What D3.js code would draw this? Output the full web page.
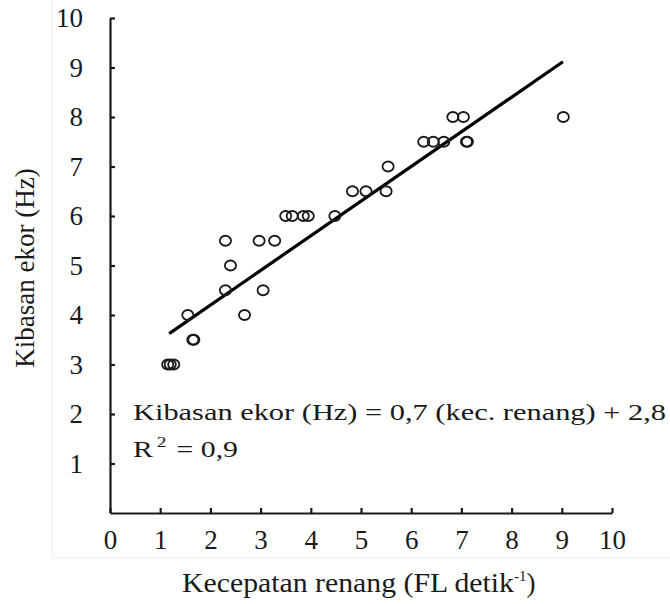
<!DOCTYPE html>
<html>
<head>
<meta charset="utf-8">
<script src="https://cdn.jsdelivr.net/npm/d3@7.9.0/dist/d3.min.js"></script>
<style>
  html, body { margin: 0; padding: 0; background: #fff; }
  svg { display: block; font-family: "Liberation Serif", "Times New Roman", serif; }
</style>
</head>
<body>
<svg id="chart" width="670" height="604"></svg>
<script>
// swimming speed (FL/s) vs tail beat frequency (Hz)
const speed = [1.15, 1.2, 1.27, 1.55, 1.65, 1.67, 2.3, 2.3, 2.4, 2.68, 2.97, 3.05, 3.28,
  3.5, 3.63, 3.85, 3.95, 4.48, 4.83, 5.1, 5.5, 5.54, 6.25, 6.44, 6.65, 6.83, 7.04, 7.1, 7.12, 9.03];
const tailBeat = [3, 3, 3, 4, 3.5, 3.5, 5.5, 4.5, 5, 4, 5.5, 4.5, 5.5,
  6, 6, 6, 6, 6, 6.5, 6.5, 6.5, 7, 7.5, 7.5, 7.5, 8, 8, 7.5, 7.5, 8];
const xTicks = [0, 1, 2, 3, 4, 5, 6, 7, 8, 9, 10];
const yTicks = [1, 2, 3, 4, 5, 6, 7, 8, 9, 10];
const slope = 0.7, intercept = 2.8;
const fitRange = [1.2, 9.0];
const eqText = "Kibasan ekor (Hz) = 0,7 (kec. renang) + 2,8";
const r2Text = "= 0,9";

const svg = d3.select("#chart");
const x = d3.scaleLinear().domain([0, 10]).range([110, 612]);
const y = d3.scaleLinear().domain([0, 10]).range([513, 18]);

// faint frame of the original figure
svg.append("path")
  .attr("d", "M52,0 V558 H670")
  .attr("fill", "none").attr("stroke", "#ececec").attr("stroke-width", 1);

const ink = "#1a1a1a";

const xAxis = svg.append("g")
  .attr("transform", `translate(0,${y(0)})`)
  .call(d3.axisBottom(x).tickValues(xTicks).tickSizeInner(-5).tickSizeOuter(0).tickFormat(d3.format("d")));
xAxis.selectAll("text").attr("y", 36).attr("dy", 0);

const yAxis = svg.append("g")
  .attr("transform", `translate(${x(0)},0)`)
  .call(d3.axisLeft(y).tickValues(yTicks).tickSizeInner(-5).tickSizeOuter(0).tickPadding(27));

svg.selectAll("g").attr("font-family", null);
svg.selectAll(".tick text").attr("fill", ink)
  .style("font-size", "27px").style("font-family", "'Liberation Serif', serif");
svg.selectAll(".domain, .tick line").attr("stroke", ink).attr("stroke-width", 2.2);

// regression line
svg.append("line")
  .attr("x1", x(fitRange[0])).attr("y1", y(slope * fitRange[0] + intercept))
  .attr("x2", x(fitRange[1])).attr("y2", y(slope * fitRange[1] + intercept))
  .attr("stroke", "#000").attr("stroke-width", 3.2).attr("stroke-linecap", "round");

// points
svg.append("g").selectAll("ellipse")
  .data(speed.map((s, i) => [s, tailBeat[i]]))
  .join("ellipse")
  .attr("cx", d => x(d[0])).attr("cy", d => y(d[1]))
  .attr("rx", 5.6).attr("ry", 5)
  .attr("fill", "none").attr("stroke", ink).attr("stroke-width", 1.8);

// equation
svg.append("text").attr("x", 133).attr("y", 420)
  .attr("font-size", 23).attr("fill", ink)
  .attr("textLength", 533).attr("lengthAdjust", "spacingAndGlyphs")
  .text(eqText);
const r2 = svg.append("text").attr("x", 133).attr("y", 457).attr("font-size", 23).attr("fill", ink)
  .attr("textLength", 105).attr("lengthAdjust", "spacingAndGlyphs");
r2.append("tspan").text("R");
r2.append("tspan").attr("font-size", 15).attr("dy", -10).attr("dx", 3).text("2");
r2.append("tspan").attr("dy", 10).attr("dx", 2).text(" " + r2Text);

// axis titles
svg.append("text")
  .attr("transform", "translate(34,268) rotate(-90)")
  .attr("text-anchor", "middle").attr("font-size", 27).attr("fill", ink)
  .text("Kibasan ekor (Hz)");

const xt = svg.append("text").attr("x", 182).attr("y", 592)
  .attr("font-size", 27).attr("fill", ink);
xt.append("tspan").text("Kecepatan renang (FL detik")
  .attr("textLength", 332).attr("lengthAdjust", "spacingAndGlyphs");
xt.append("tspan").attr("font-size", 15).attr("dy", -11).text("-1");
xt.append("tspan").attr("dy", 11).text(")");
</script>
</body>
</html>
